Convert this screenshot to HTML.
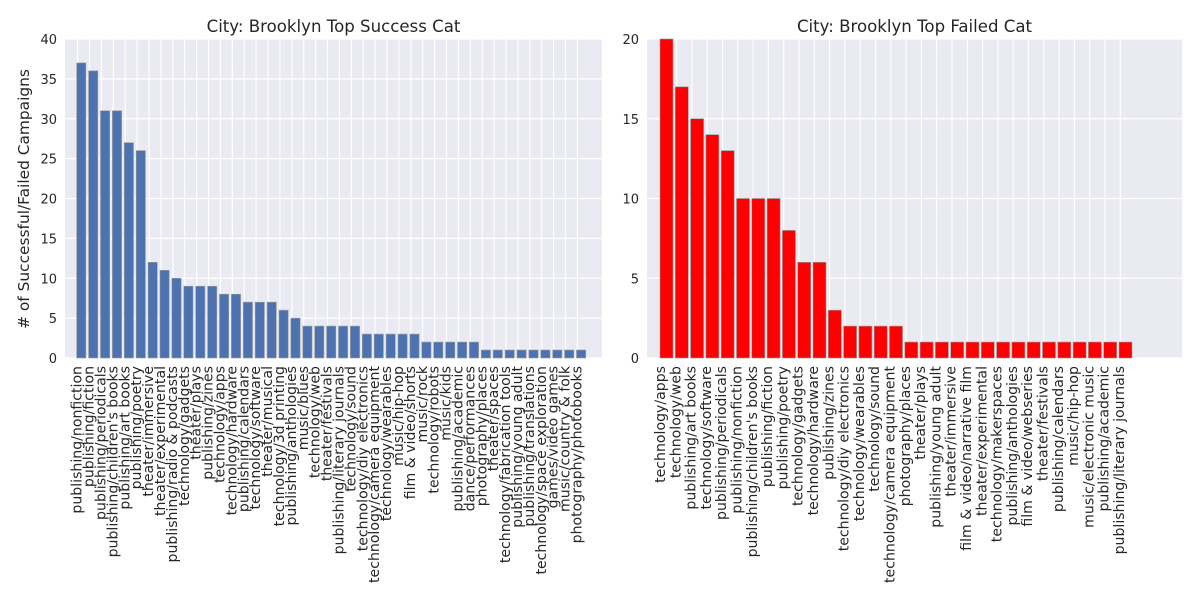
<!DOCTYPE html>
<html><head><meta charset="utf-8"><style>
body{margin:0;background:#fff}
svg text{font-family:"DejaVu Sans","Liberation Sans",sans-serif;fill:#262626}
</style></head><body>
<svg id="chart" width="1200" height="600" xmlns="http://www.w3.org/2000/svg"></svg>
<script>
const successCats=["publishing/nonfiction","publishing/fiction","publishing/periodicals","publishing/children's books","publishing/art books","publishing/poetry","theater/immersive","theater/experimental","publishing/radio & podcasts","technology/gadgets","theater/plays","publishing/zines","technology/apps","technology/hardware","publishing/calendars","technology/software","theater/musical","technology/3d printing","publishing/anthologies","music/blues","technology/web","theater/festivals","publishing/literary journals","technology/sound","technology/diy electronics","technology/camera equipment","technology/wearables","music/hip-hop","film & video/shorts","music/rock","technology/robots","music/kids","publishing/academic","dance/performances","photography/places","theater/spaces","technology/fabrication tools","publishing/young adult","publishing/translations","technology/space exploration","games/video games","music/country & folk","photography/photobooks"];
const successVals=[37,36,31,31,27,26,12,11,10,9,9,9,8,8,7,7,7,6,5,4,4,4,4,4,3,3,3,3,3,2,2,2,2,2,1,1,1,1,1,1,1,1,1];
const successTicks=[0,5,10,15,20,25,30,35,40];
const failedCats=["technology/apps","technology/web","publishing/art books","technology/software","publishing/periodicals","publishing/nonfiction","publishing/children's books","publishing/fiction","publishing/poetry","technology/gadgets","technology/hardware","publishing/zines","technology/diy electronics","technology/wearables","technology/sound","technology/camera equipment","photography/places","theater/plays","publishing/young adult","theater/immersive","film & video/narrative film","theater/experimental","technology/makerspaces","publishing/anthologies","film & video/webseries","theater/festivals","publishing/calendars","music/hip-hop","music/electronic music","publishing/academic","publishing/literary journals"];
const failedVals=[20,17,15,14,13,10,10,10,8,6,6,3,2,2,2,2,1,1,1,1,1,1,1,1,1,1,1,1,1,1,1];
const failedTicks=[0,5,10,15,20];

const NS="http://www.w3.org/2000/svg";
const svg=document.getElementById('chart');
function el(tag,attrs,parent){const e=document.createElementNS(NS,tag);for(const k in attrs)e.setAttribute(k,attrs[k]);(parent||svg).appendChild(e);return e;}

function panel(cfg){
  const g=el('g',{});
  
  
  const top=39,bottom=358;
  const y=v=>bottom-(v/cfg.ymax)*(bottom-top);
  const xl=i=>cfg.x0+cfg.step*i;
  const bg=el('rect',{x:cfg.left,y:top,width:cfg.right-cfg.left,height:bottom-top,fill:'#eaeaf2'},g);
  
  
  cfg.ticks.forEach(t=>{
    el('line',{x1:cfg.left,x2:cfg.right,y1:y(t),y2:y(t),stroke:'#fff','stroke-width':1.2},g);
    const tl=el('text',{x:cfg.left-8,y:y(t)+5,'text-anchor':'end','font-size':13},g);
    tl.textContent=t;
    
    
  });
  cfg.cats.forEach((c,i)=>{
    const gx=xl(i)+cfg.bw*0.1;
    el('line',{x1:gx,x2:gx,y1:top,y2:bottom,stroke:'#fff','stroke-width':1.2},g);
  });
  cfg.vals.forEach((v,i)=>{
    const r=el('rect',{x:xl(i),y:y(v),width:cfg.bw,height:bottom-y(v),fill:cfg.color,stroke:'#999','stroke-width':0.6},g);
    
    
  });
  cfg.cats.forEach((c,i)=>{
    const cx=xl(i)+5;
    const t=el('text',{x:cx,y:366,'text-anchor':'end','font-size':14.1,transform:`rotate(-90 ${cx} 366)`},g);
    t.textContent=c;
    
    
  });
  const tt=el('text',{x:(cfg.left+cfg.right)/2,y:32,'text-anchor':'middle','font-size':16.6},g);
  tt.textContent=cfg.title;
  
  
}
panel({name:'success-panel',left:65,right:602,x0:76.7,step:11.9,bw:9.2,ymax:40,ticks:successTicks,cats:successCats,vals:successVals,color:'#4c72b0',title:'City: Brooklyn Top Success Cat'});
panel({name:'failed-panel',left:647,right:1182,x0:660,step:15.3,bw:13,ymax:20,ticks:failedTicks,cats:failedCats,vals:failedVals,color:'#ff0000',title:'City: Brooklyn Top Failed Cat'});
const yl=el('text',{x:29,y:199,'text-anchor':'middle','font-size':15.4,transform:'rotate(-90 29 199)'});
yl.textContent='# of Successful/Failed Campaigns';


</script>
</body></html>
